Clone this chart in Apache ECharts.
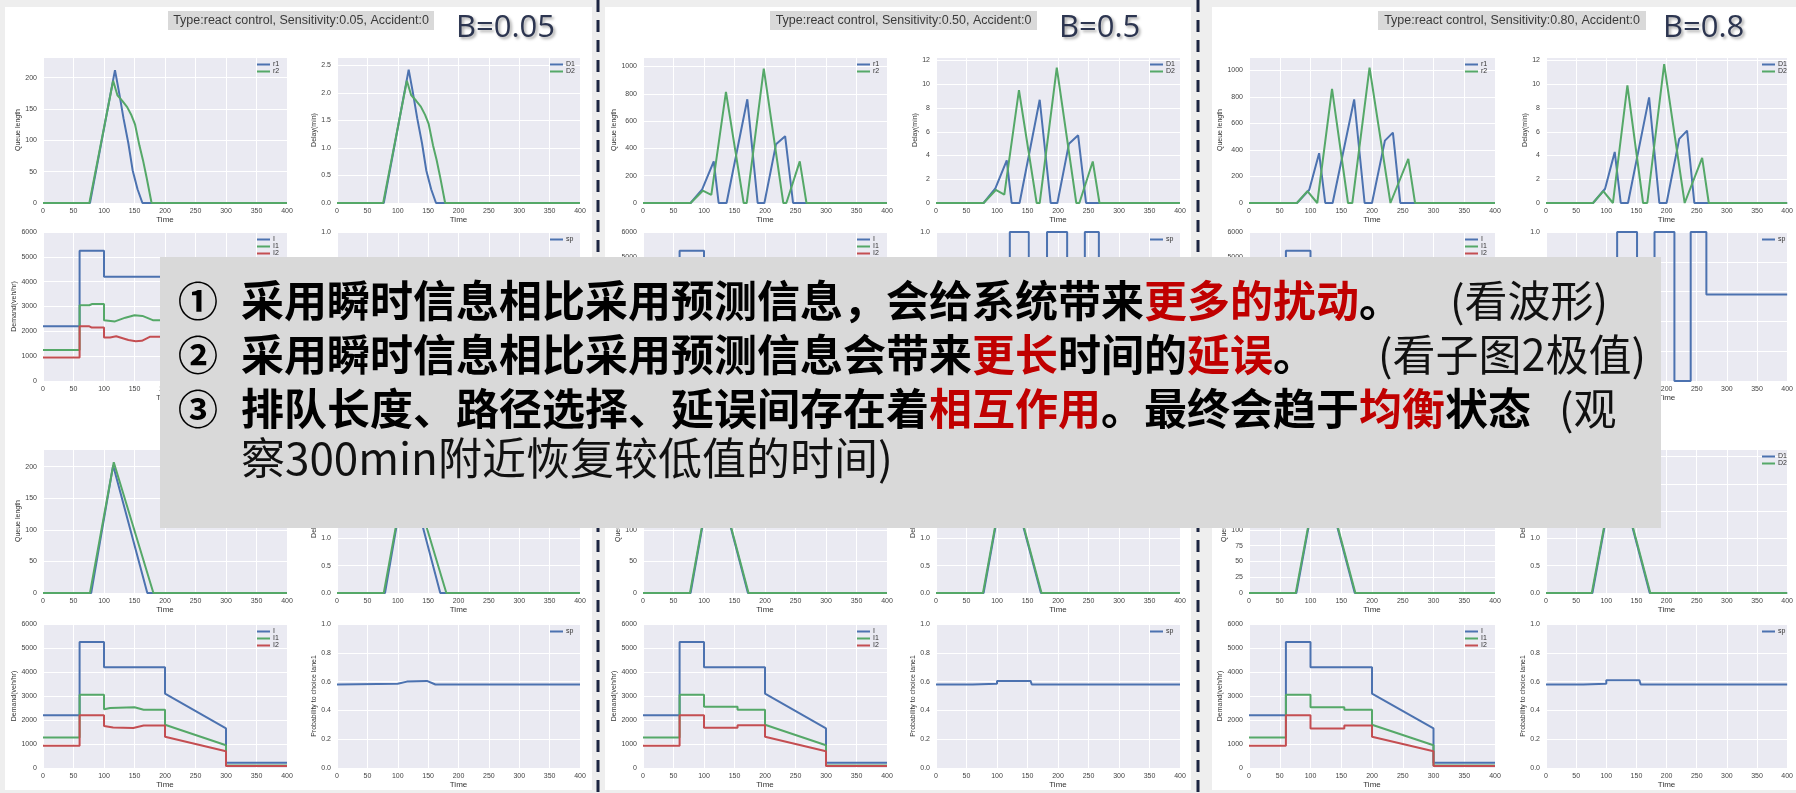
<!DOCTYPE html>
<html>
<head>
<meta charset="utf-8">
<script src="https://cdn.jsdelivr.net/npm/echarts@6.0.0/dist/echarts.min.js"></script>
<style>
  html, body { margin: 0; padding: 0; background: #eeeeee; }
  #chart { width: 1796px; height: 793px; }
</style>
</head>
<body>
<div id="chart"></div>
<script>
// ---- data (time in min) ----
const titles = [
  "Type:react control, Sensitivity:0.05, Accident:0",
  "Type:react control, Sensitivity:0.50, Accident:0",
  "Type:react control, Sensitivity:0.80, Accident:0"
];
const betaLabels = ["B=0.05", "B=0.5", "B=0.8"];

// demand I is the same input in every run
const demandI = [[0,2200],[60,2200],[60,5250],[100,5250],[100,4200],[200,4200],[200,3100],[300,1650],[300,220],[400,220]];

// top row, sensitivity 0.05
const t05QueueR1 = [[0,0],[77,0],[118,212],[125,175],[132,135],[140,95],[147,52],[155,22],[163,0],[400,0]];
const t05QueueR2 = [[0,0],[76,0],[115,195],[122,172],[130,163],[138,153],[145,140],[151,125],[158,92],[164,68],[170,40],[178,0],[400,0]];
const t05DelayD1 = [[0,0],[77,0],[118,2.42],[125,2.0],[132,1.54],[140,1.08],[147,0.59],[155,0.25],[163,0],[400,0]];
const t05DelayD2 = [[0,0],[76,0],[115,2.22],[122,1.96],[130,1.86],[138,1.75],[145,1.6],[151,1.43],[158,1.05],[164,0.78],[170,0.46],[178,0],[400,0]];
const t05DemandI1 = [[0,1250],[60,1250],[60,3050],[76,3050],[80,3100],[100,3100],[100,2450],[118,2400],[135,2550],[150,2650],[163,2620],[180,2450],[200,2450],[200,1800],[300,950],[300,100],[400,100]];
const t05DemandI2 = [[0,950],[60,950],[60,2200],[76,2200],[80,2150],[100,2150],[100,1750],[110,1750],[120,1800],[140,1650],[152,1600],[162,1620],[175,1780],[200,1780],[200,1300],[300,700],[300,80],[400,80]];
const t05Prob = [[0,0.58],[60,0.58],[100,0.6],[120,0.62],[150,0.57],[175,0.6],[200,0.59],[250,0.58],[400,0.58]];

// top row, sensitivity 0.50
const t50QueueR1 = [[0,0],[78,0],[97,100],[116,305],[124,0],[137,0],[171,760],[188,0],[199,0],[218,430],[233,490],[246,0],[400,0]];
const t50QueueR2 = [[0,0],[78,0],[98,90],[112,60],[136,815],[165,0],[170,0],[198,985],[230,0],[235,0],[257,305],[268,0],[400,0]];
const t50DelayD1 = [[0,0],[78,0],[97,1.2],[116,3.6],[124,0],[137,0],[170,8.7],[188,0],[199,0],[218,5.0],[233,5.7],[246,0],[400,0]];
const t50DelayD2 = [[0,0],[78,0],[98,1.1],[112,0.7],[136,9.5],[165,0],[170,0],[198,11.4],[230,0],[235,0],[257,3.5],[268,0],[400,0]];
const t50DemandI1 = [[0,1270],[60,1270],[60,3050],[100,3050],[100,2500],[121,2500],[121,3600],[152,3600],[152,1000],[182,1000],[182,3600],[200,3600],[200,2700],[215,2500],[215,700],[244,600],[244,2000],[267,1800],[267,900],[300,950],[300,100],[400,100]];
const t50DemandI2 = [[0,930],[60,930],[60,2200],[100,2200],[100,1700],[121,1700],[121,600],[152,600],[152,3200],[182,3200],[182,600],[200,600],[200,400],[215,400],[215,2400],[244,2300],[244,700],[267,600],[267,700],[300,700],[300,80],[400,80]];
const t50Prob = [[0,0.58],[80,0.58],[95,0.7],[105,0],[121,0],[121,1],[152,1],[152,0],[182,0],[182,1],[215,1],[215,0],[244,0],[244,1],[267,1],[267,0.58],[400,0.58]];

// top row, sensitivity 0.80
const t80QueueR1 = [[0,0],[78,0],[98,100],[114,375],[124,0],[136,0],[171,780],[188,0],[200,0],[221,470],[234,530],[246,0],[400,0]];
const t80QueueR2 = [[0,0],[78,0],[95,90],[111,0],[135,860],[161,0],[168,0],[196,1020],[230,0],[233,0],[259,333],[270,0],[400,0]];
const t80DelayD1 = [[0,0],[78,0],[98,1.2],[114,4.3],[124,0],[136,0],[171,8.9],[188,0],[200,0],[221,5.4],[234,6.1],[246,0],[400,0]];
const t80DelayD2 = [[0,0],[78,0],[95,1.0],[111,0],[135,9.9],[161,0],[168,0],[196,11.7],[230,0],[233,0],[259,3.8],[270,0],[400,0]];
const t80DemandI1 = [[0,1270],[60,1270],[60,3050],[100,3050],[100,2500],[118,2500],[118,3900],[151,3900],[151,800],[180,800],[180,3900],[200,3900],[200,2900],[213,2700],[213,500],[240,450],[240,2100],[266,1900],[266,900],[300,950],[300,100],[400,100]];
const t80DemandI2 = [[0,930],[60,930],[60,2200],[100,2200],[100,1700],[118,1700],[118,300],[151,300],[151,3400],[180,3400],[180,300],[200,300],[200,200],[213,200],[213,2600],[240,2500],[240,600],[266,500],[266,700],[300,700],[300,80],[400,80]];
const t80Prob = [[0,0.58],[80,0.58],[95,0.72],[105,0],[118,0],[118,1],[151,1],[151,0],[180,0],[180,1],[213,1],[213,0],[240,0],[240,1],[266,1],[266,0.58],[400,0.58]];

// bottom row (predictive info)
const b05QueueR1 = [[0,0],[79,0],[115,202],[171,0],[400,0]];
const b05QueueR2 = [[0,0],[77,0],[116,207],[181,0],[400,0]];
const b05DelayD1 = [[0,0],[79,0],[115,2.32],[170,0],[400,0]];
const b05DelayD2 = [[0,0],[77,0],[116,2.38],[180,0],[400,0]];
const b05DemandI1 = [[0,1270],[60,1270],[60,3050],[100,3050],[100,2450],[110,2500],[150,2530],[165,2430],[200,2430],[200,1800],[300,950],[300,100],[400,100]];
const b05DemandI2 = [[0,930],[60,930],[60,2200],[100,2200],[100,1750],[115,1690],[148,1670],[165,1770],[200,1770],[200,1300],[300,700],[300,80],[400,80]];
const b05Prob = [[0,0.58],[100,0.585],[115,0.6],[148,0.605],[162,0.58],[400,0.58]];

const b50QueueR1 = [[0,0],[78,0],[116,207],[172,0],[400,0]];
const b50QueueR2 = [[0,0],[77,0],[116,208],[173,0],[400,0]];
const b50DelayD1 = [[0,0],[78,0],[116,2.36],[172,0],[400,0]];
const b50DelayD2 = [[0,0],[77,0],[116,2.38],[173,0],[400,0]];
const b50DemandI1 = [[0,1270],[60,1270],[60,3050],[100,3050],[100,2550],[155,2550],[155,2430],[200,2430],[200,1800],[300,950],[300,100],[400,100]];
const b50DemandI2 = [[0,930],[60,930],[60,2200],[100,2200],[100,1680],[155,1680],[155,1780],[200,1780],[200,1300],[300,700],[300,80],[400,80]];
const b50Prob = [[0,0.58],[60,0.58],[60,0.585],[100,0.585],[100,0.605],[155,0.605],[157,0.58],[400,0.58]];

const b80QueueR1 = [[0,0],[77,0],[116,206],[172,0],[400,0]];
const b80QueueR2 = [[0,0],[76,0],[116,208],[173,0],[400,0]];
const b80DelayD1 = [[0,0],[77,0],[116,2.36],[172,0],[400,0]];
const b80DelayD2 = [[0,0],[76,0],[116,2.38],[173,0],[400,0]];
const b80DemandI1 = [[0,1270],[60,1270],[60,3050],[100,3050],[100,2530],[155,2530],[155,2430],[200,2430],[200,1800],[300,950],[300,100],[400,100]];
const b80DemandI2 = [[0,930],[60,930],[60,2200],[100,2200],[100,1650],[155,1650],[155,1770],[200,1770],[200,1300],[300,700],[300,80],[400,80]];
const b80Prob = [[0,0.58],[62,0.58],[62,0.585],[100,0.585],[100,0.61],[155,0.61],[157,0.58],[400,0.58]];

// ---- layout ----
const BLUE = "#4c72b0", GREEN = "#55a868", RED = "#c44e52";
const colA = [43, 643, 1249], colAW = [244, 244, 246];
const colB = [337, 936, 1546], colBW = [243, 244, 246];
const rowsTop = [[57, 146], [232, 149]];
const rowsBottom = [[449, 144], [624, 144]];

const grids = [], xAxes = [], yAxes = [], series = [], legends = [];
let gi = 0;

function addPlot(left, top, w, h, y, lines) {
  grids.push({ left: left, top: top, width: w, height: h, show: true,
    backgroundColor: "#eaeaf2", borderWidth: 0 });
  xAxes.push({
    type: "value", gridIndex: gi, min: 0, max: 400, interval: 50,
    axisLine: { show: false }, axisTick: { show: false },
    splitLine: { show: true, lineStyle: { color: "#ffffff", width: 1 } },
    axisLabel: { fontSize: 7, color: "#444", margin: 5, fontFamily: "Liberation Sans" },
    name: "Time", nameLocation: "middle", nameGap: 13,
    nameTextStyle: { fontSize: 8, color: "#333", fontFamily: "Liberation Sans" }
  });
  yAxes.push({
    type: "value", gridIndex: gi, min: 0, max: y.max, interval: y.step,
    axisLine: { show: false }, axisTick: { show: false },
    splitLine: { show: true, lineStyle: { color: "#ffffff", width: 1 } },
    axisLabel: { fontSize: 7, color: "#444", margin: 6, fontFamily: "Liberation Sans",
      showMaxLabel: y.maxLabel, formatter: y.fmt },
    name: y.name, nameLocation: "middle", nameGap: y.gap,
    nameTextStyle: { fontSize: 7, color: "#333", fontFamily: "Liberation Sans" }
  });
  lines.forEach(function (l) {
    series.push({
      type: "line", name: l[0], data: l[1], xAxisIndex: gi, yAxisIndex: gi,
      showSymbol: false, symbol: "none", silent: true,
      lineStyle: { color: l[2], width: 2 }, itemStyle: { color: l[2] }
    });
  });
  legends.push({
    left: left + w - 30, top: top + 4, orient: "vertical", padding: 0,
    itemWidth: 13, itemHeight: 2, itemGap: 0, icon: "rect", selectedMode: false,
    textStyle: { fontSize: 7, color: "#333", fontFamily: "Liberation Sans", padding: [0, 0, 0, -2] },
    data: lines.map(function (l) { return l[0]; })
  });
  gi++;
}

const fmt1 = function (v) { return v.toFixed(1); };
const fmt0 = function (v) { return String(v); };

function addPanel(col, rows, p) {
  const r1 = rows[0], r2 = rows[1];
  addPlot(colA[col], r1[0], colAW[col], r1[1],
    { max: p.qMax, step: p.qStep, name: "Queue length", gap: p.qGap, maxLabel: false, fmt: fmt0 },
    [["r1", p.q1, BLUE], ["r2", p.q2, GREEN]]);
  addPlot(colB[col], r1[0], colBW[col], r1[1],
    { max: p.dMax, step: p.dStep, name: "Delay(min)", gap: p.dGap, maxLabel: false, fmt: p.dStep < 1 ? fmt1 : fmt0 },
    [["D1", p.d1, BLUE], ["D2", p.d2, GREEN]]);
  addPlot(colA[col], r2[0], colAW[col], r2[1],
    { max: 6000, step: 1000, name: "Demand(veh/hr)", gap: 19, maxLabel: true, fmt: fmt0 },
    [["I", demandI, BLUE], ["I1", p.i1, GREEN], ["I2", p.i2, RED]]);
  addPlot(colB[col], r2[0], colBW[col], r2[1],
    { max: 1, step: 0.2, name: "Probability to choice lane1", gap: 15, maxLabel: true, fmt: fmt1 },
    [["sp", p.sp, BLUE]]);
}

addPanel(0, rowsTop, { q1: t05QueueR1, q2: t05QueueR2, qMax: 233, qStep: 50, qGap: 15,
  d1: t05DelayD1, d2: t05DelayD2, dMax: 2.65, dStep: 0.5, dGap: 14, i1: t05DemandI1, i2: t05DemandI2, sp: t05Prob });
addPanel(1, rowsTop, { q1: t50QueueR1, q2: t50QueueR2, qMax: 1070, qStep: 200, qGap: 20,
  d1: t50DelayD1, d2: t50DelayD2, dMax: 12.3, dStep: 2, dGap: 11, i1: t50DemandI1, i2: t50DemandI2, sp: t50Prob });
addPanel(2, rowsTop, { q1: t80QueueR1, q2: t80QueueR2, qMax: 1100, qStep: 200, qGap: 20,
  d1: t80DelayD1, d2: t80DelayD2, dMax: 12.3, dStep: 2, dGap: 11, i1: t80DemandI1, i2: t80DemandI2, sp: t80Prob });
addPanel(0, rowsBottom, { q1: b05QueueR1, q2: b05QueueR2, qMax: 228, qStep: 50, qGap: 15,
  d1: b05DelayD1, d2: b05DelayD2, dMax: 2.64, dStep: 0.5, dGap: 14, i1: b05DemandI1, i2: b05DemandI2, sp: b05Prob });
addPanel(1, rowsBottom, { q1: b50QueueR1, q2: b50QueueR2, qMax: 228, qStep: 50, qGap: 15,
  d1: b50DelayD1, d2: b50DelayD2, dMax: 2.64, dStep: 0.5, dGap: 14, i1: b50DemandI1, i2: b50DemandI2, sp: b50Prob });
addPanel(2, rowsBottom, { q1: b80QueueR1, q2: b80QueueR2, qMax: 228, qStep: 25, qGap: 15,
  d1: b80DelayD1, d2: b80DelayD2, dMax: 2.64, dStep: 0.5, dGap: 14, i1: b80DemandI1, i2: b80DemandI2, sp: b80Prob });

// ---- decorations: white panels, dashed separators, headers, note box ----
const graphic = [];
[[5, 587], [605, 586], [1212, 584]].forEach(function (pn) {
  graphic.push({ type: "rect", z: -100, shape: { x: pn[0], y: 7, width: pn[1], height: 783 }, style: { fill: "#ffffff" } });
});
[598, 1198].forEach(function (x) {
  graphic.push({ type: "line", z: 50, shape: { x1: x, y1: 0, x2: x, y2: 793 },
    style: { stroke: "#1c2541", lineWidth: 3, lineDash: [12, 8] } });
});
const titleBoxes = [[168, 266], [770, 267], [1378, 268]];
const betaPos = [456, 1059, 1663];
titleBoxes.forEach(function (b, i) {
  graphic.push({ type: "rect", z: 10, shape: { x: b[0], y: 11, width: b[1], height: 19 }, style: { fill: "#d9d9d9" } });
  graphic.push({ type: "text", z: 11, x: b[0] + b[1] / 2, y: 21,
    style: { text: titles[i], fontSize: 12.5, fontFamily: "Liberation Sans", fill: "#3a3a3a",
      align: "center", verticalAlign: "middle" } });
  graphic.push({ type: "text", z: 11, x: betaPos[i], y: 28,
    style: { text: betaLabels[i], fontSize: 31, fontFamily: "Open Sans", fill: "#2c3550",
      verticalAlign: "middle", textShadowColor: "rgba(0,0,0,0.35)", textShadowBlur: 3,
      textShadowOffsetX: 2, textShadowOffsetY: 2 } });
});

// note box
const CJK = "Noto Sans CJK SC";
const rich = {
  k: { fontSize: 43, fontWeight: "bold", fontFamily: CJK, fill: "#000", color: "#000" },
  r: { fontSize: 43, fontWeight: "bold", fontFamily: CJK, fill: "#c00000", color: "#c00000" },
  n: { fontSize: 44, fontWeight: "normal", fontFamily: CJK, fill: "#111", color: "#111" }
};
graphic.push({ type: "rect", z: 100, shape: { x: 160, y: 257, width: 1501, height: 271 }, style: { fill: "#d9d9d9" } });
const noteLines = [
  { y: 301, num: "①", main: "{k|采用瞬时信息相比采用预测信息，会给系统带来}{r|更多的扰动}{k|。}", extra: "(看波形)", ex: 1450 },
  { y: 355, num: "②", main: "{k|采用瞬时信息相比采用预测信息会带来}{r|更长}{k|时间的}{r|延误}{k|。}", extra: "(看子图2极值)", ex: 1378 },
  { y: 409, num: "③", main: "{k|排队长度、路径选择、延误间存在着}{r|相互作用}{k|。最终会趋于}{r|均衡}{k|状态}", extra: "(观", ex: 1559 },
  { y: 458, num: "", main: "{n|察300min附近恢复较低值的时间)}", extra: "", ex: 0 }
];
noteLines.forEach(function (ln) {
  if (ln.num) {
    graphic.push({ type: "text", z: 101, x: 178, y: ln.y,
      style: { text: ln.num, fontSize: 40, fontWeight: "bold", fontFamily: CJK, fill: "#000", verticalAlign: "middle" } });
  }
  graphic.push({ type: "text", z: 101, x: 241, y: ln.y,
    style: { text: ln.main, rich: rich, verticalAlign: "middle" } });
  if (ln.extra) {
    graphic.push({ type: "text", z: 101, x: ln.ex, y: ln.y,
      style: { text: ln.extra, fontSize: 43, fontFamily: CJK, fill: "#111", verticalAlign: "middle" } });
  }
});

const chart = echarts.init(document.getElementById("chart"), null, { renderer: "canvas" });
chart.setOption({
  animation: false,
  backgroundColor: "transparent",
  grid: grids,
  xAxis: xAxes,
  yAxis: yAxes,
  legend: legends,
  series: series,
  graphic: graphic
});
</script>
</body>
</html>
